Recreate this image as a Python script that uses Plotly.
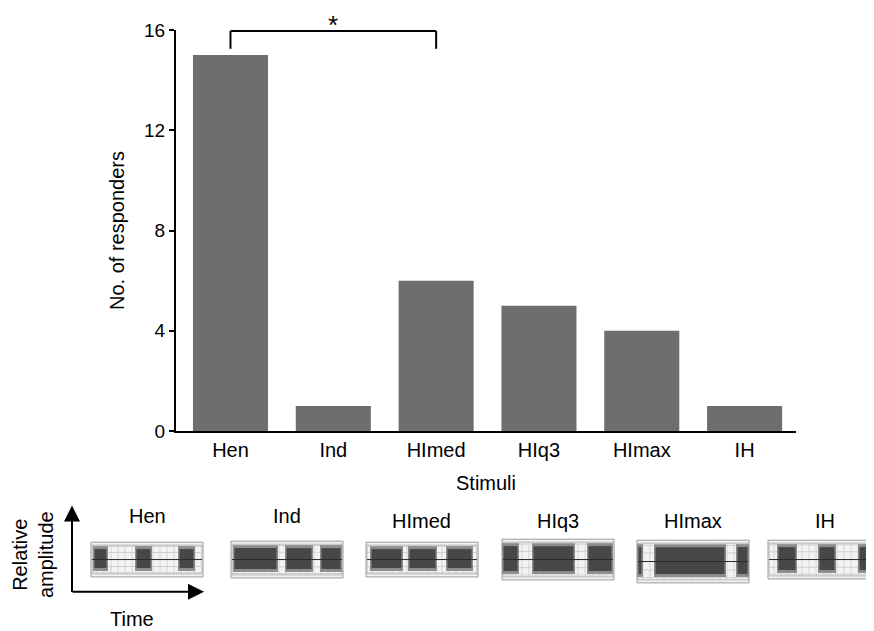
import plotly.graph_objects as go

# ---------------- data ----------------
categories = ["Hen", "Ind", "HImed", "HIq3", "HImax", "IH"]
responders = [15, 1, 6, 5, 4, 1]
y_ticks = [0, 4, 8, 12, 16]

# stimulus thumbnails: box extent (px) and dark sound blocks (px) per stimulus
thumb_labels = ["Hen", "Ind", "HImed", "HIq3", "HImax", "IH"]
thumb_box_x = [(91, 203), (231, 343), (366, 478), (502, 614), (637, 749), (768, 880)]
thumb_box_y = [(543, 578), (542, 579), (543, 578), (540, 581), (541, 584), (541, 580)]
thumb_blocks = [
    [(93, 108), (135, 152), (178, 195)],
    [(233, 278), (285, 313), (320, 342)],
    [(370, 403), (408, 437), (446, 473)],
    [(502, 519), (532, 575), (587, 613)],
    [(637, 643), (654, 726), (736, 749)],
    [(777, 797), (818, 836), (858, 878)],
]
thumb_label_pos = [(147, 517), (287, 517), (421, 522), (558, 522), (693, 522), (825, 522)]

# ---------------- layout geometry ----------------
OFF = 8                      # page body margin of the html page
W, H = 874 - OFF, 631 - OFF
L, R, T, B = 176, 796, 27, 431  # plot area in window pixels
FONT = "Liberation Sans, Arial, sans-serif"


def px(x):
    return (x - L) / (R - L)


def py(y):
    return (B - y) / (B - T)


fig = go.Figure()
fig.add_trace(go.Bar(
    x=categories, y=responders, width=0.73,
    marker=dict(color="#6e6e6e", line=dict(width=0)),
    hoverinfo="x+y",
))

shapes = []
# significance bracket between Hen and HImed
for seg in [((categories[0], 15.25), (categories[0], 15.96)),
            ((categories[0], 15.96), (categories[2], 15.96)),
            ((categories[2], 15.96), (categories[2], 15.25))]:
    shapes.append(dict(type="line", xref="x", yref="y",
                       x0=seg[0][0], y0=seg[0][1], x1=seg[1][0], y1=seg[1][1],
                       line=dict(color="black", width=2)))

annotations = [dict(text="*", xref="x", yref="paper", x=1, y=py(22),
                    xanchor="center", yanchor="middle",
                    showarrow=False, font=dict(size=26, family=FONT, color="black"))]

# thumbnails
for i, lab in enumerate(thumb_labels):
    x0, x1 = thumb_box_x[i]
    y0, y1 = thumb_box_y[i]
    shapes.append(dict(type="rect", xref="paper", yref="paper",
                       x0=px(x0), x1=px(x1), y0=py(y0), y1=py(y1),
                       fillcolor="#f3f3f3", line=dict(color="#9a9a9a", width=1), layer="below"))
    gx = x0 + 6
    while gx < x1 - 2:
        shapes.append(dict(type="line", xref="paper", yref="paper",
                           x0=px(gx), x1=px(gx), y0=py(y0 + 3), y1=py(y1 - 3),
                           line=dict(color="#d4d4d4", width=1), layer="below"))
        gx += 7
    for f in [0.12, 0.3, 0.7, 0.88]:
        yy = y0 + f * (y1 - y0)
        shapes.append(dict(type="line", xref="paper", yref="paper",
                           x0=px(x0), x1=px(x1), y0=py(yy), y1=py(yy),
                           line=dict(color="#cfcfcf", width=1), layer="below"))
    shapes.append(dict(type="rect", xref="paper", yref="paper",
                       x0=px(x0 + 1), x1=px(x1 - 1), y0=py(y0 + 3), y1=py(y1 - 3),
                       line=dict(color="#b5b5b5", width=1), layer="below"))
    by0 = y0 + 4
    by1 = y1 - 6
    for (bx0, bx1) in thumb_blocks[i]:
        shapes.append(dict(type="rect", xref="paper", yref="paper",
                           x0=px(bx0), x1=px(bx1), y0=py(by0), y1=py(by1),
                           fillcolor="#8c8c8c", line=dict(width=0)))
        shapes.append(dict(type="rect", xref="paper", yref="paper",
                           x0=px(bx0 + 1.5), x1=px(bx1 - 1.5), y0=py(by0 + 3), y1=py(by1 - 3),
                           fillcolor="#474747", line=dict(width=0)))
    cy = (y0 + y1) / 2
    shapes.append(dict(type="line", xref="paper", yref="paper",
                       x0=px(x0 + 1), x1=px(x1 - 1), y0=py(cy), y1=py(cy),
                       line=dict(color="#2a2a2a", width=1)))
    lx, ly = thumb_label_pos[i]
    annotations.append(dict(text=lab, xref="paper", yref="paper", x=px(lx), y=py(ly),
                            xanchor="center", yanchor="middle",
                            showarrow=False, font=dict(size=20, family=FONT, color="black")))

# axes arrows for the thumbnails
annotations.append(dict(text="", xref="paper", yref="paper", x=px(72), y=py(506),
                        ax=0, ay=88, axref="pixel", ayref="pixel", showarrow=True,
                        arrowhead=2, arrowsize=1.6, arrowwidth=2, arrowcolor="black", standoff=0))
annotations.append(dict(text="", xref="paper", yref="paper", x=px(204), y=py(593),
                        ax=-133, ay=0, axref="pixel", ayref="pixel", showarrow=True,
                        arrowhead=2, arrowsize=1.6, arrowwidth=2, arrowcolor="black", standoff=0))
annotations.append(dict(text="Relative<br>amplitude", xref="paper", yref="paper",
                        x=px(33), y=py(556), textangle=-90, showarrow=False,
                        xanchor="center", yanchor="middle",
                        font=dict(size=20, family=FONT, color="black")))
annotations.append(dict(text="Time", xref="paper", yref="paper", x=px(132), y=py(620),
                        xanchor="center", yanchor="middle",
                        showarrow=False, font=dict(size=20, family=FONT, color="black")))

fig.update_layout(
    width=W, height=H,
    margin=dict(l=L - OFF, r=(874 - R), t=T - OFF, b=(631 - B), pad=0),
    paper_bgcolor="white", plot_bgcolor="white",
    showlegend=False,
    font=dict(family=FONT, size=20, color="black"),
    shapes=shapes, annotations=annotations,
    xaxis=dict(
        range=[-0.53, 5.5], showline=True, linecolor="black", linewidth=2,
        ticks="", showgrid=False, zeroline=False,
        tickfont=dict(size=20, family=FONT),
        title=dict(text="Stimuli", font=dict(size=20, family=FONT), standoff=16),
    ),
    yaxis=dict(
        range=[0, 16], tickvals=y_ticks, showline=True, linecolor="black", linewidth=2,
        ticks="outside", ticklen=5, tickwidth=1.5, tickcolor="black",
        showgrid=False, zeroline=False,
        tickfont=dict(size=19, family=FONT),
        title=dict(text="No. of responders", font=dict(size=20, family=FONT), standoff=14),
    ),
)

fig.write_html("out.html")
